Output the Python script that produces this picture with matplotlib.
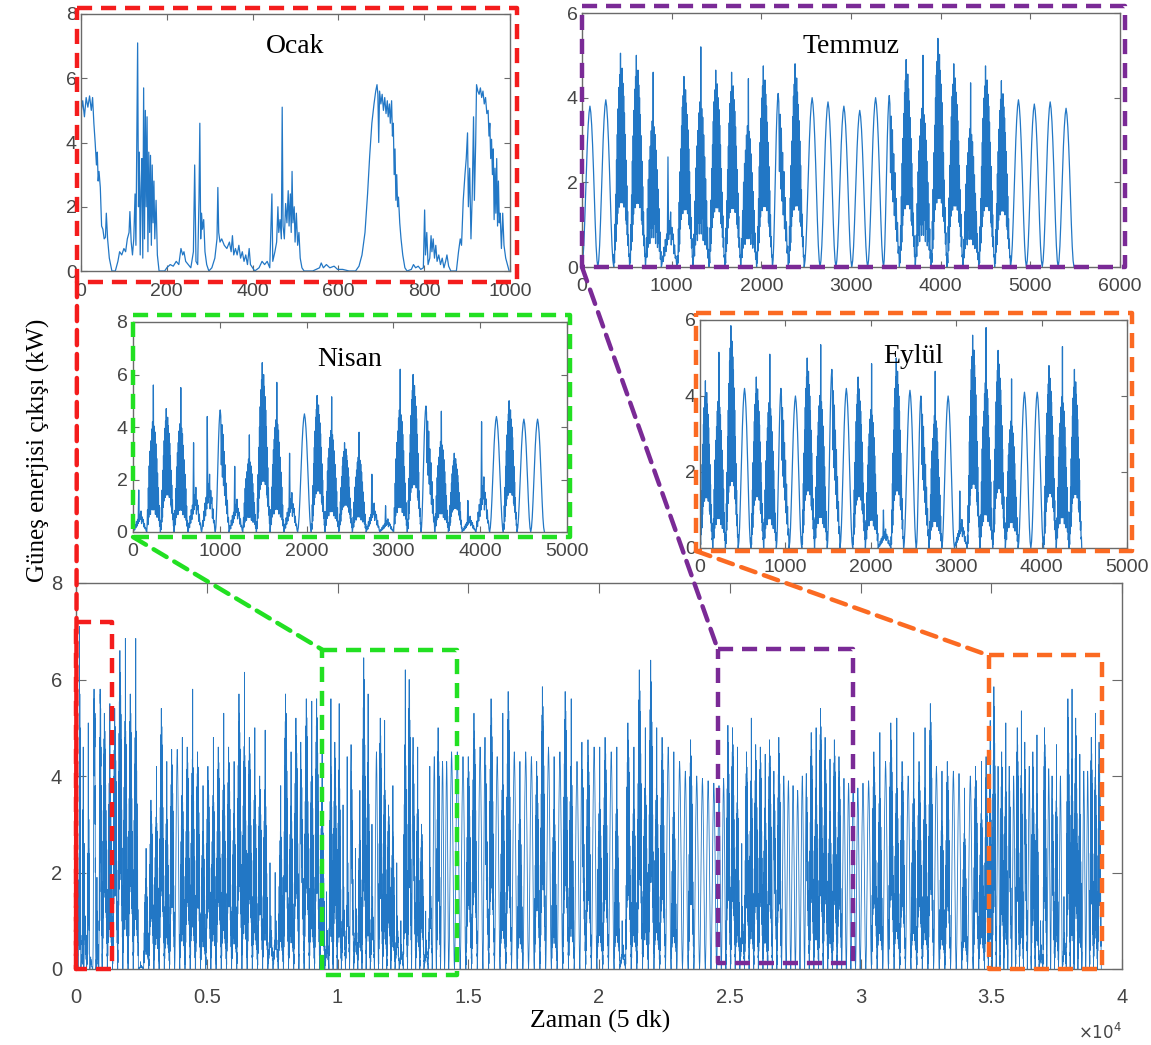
import numpy as np
import matplotlib
matplotlib.use("Agg")
import matplotlib.pyplot as plt
from matplotlib.patches import ConnectionPatch

plt.rcParams['font.family'] = ['Liberation Sans', 'DejaVu Sans']

# ---- Ocak detail (first 1000 samples) ----
ocak_x = [0, 4, 8, 12, 16, 20, 24, 27, 30, 33, 36, 38, 40, 42, 45, 48, 51, 54, 57, 59, 62, 66, 72,
          80, 86, 90, 95, 100, 104, 108, 112, 114, 117, 120, 123, 126, 128, 130, 132, 134, 136, 138,
          140, 142, 144, 146, 148, 150, 152, 154, 156, 158, 160, 162, 164, 166, 168, 170, 172, 175, 178, 182,
          195, 200, 208, 215, 222, 228, 233, 237, 240, 244, 250, 256, 262, 265, 268, 272, 275, 277, 279,
          281, 283, 286, 289, 293, 298,
          305, 312, 317, 319, 321, 324, 328, 334, 340, 346, 350, 353, 356, 360, 364, 368, 372, 376, 380,
          384, 388, 392, 395, 400, 405,
          415, 422, 428, 434, 440, 445, 447, 452, 456, 459, 461, 464, 467, 469, 471, 474, 477, 480, 483,
          485, 488, 490, 492, 494, 497, 499, 502, 505, 508, 511, 515, 520,
          540, 548, 556, 560, 565, 572, 580, 590, 598, 610, 625,
          640, 648, 655, 662, 668, 673, 678, 683, 687, 690, 692, 694, 696, 699, 702, 705, 708, 711, 714,
          716, 719, 721, 724, 726, 728, 730, 732, 734, 736, 738, 740, 743, 746, 750, 755, 760,
          770, 775, 780, 786, 792, 798, 801, 803, 806, 809, 813, 816, 818, 821, 824, 827, 830, 834, 838,
          842, 846, 850, 853, 857, 862,
          875, 880, 884, 887, 891, 895, 898, 901, 903, 906, 909, 912, 915, 917, 920, 922, 925, 928, 931,
          934, 937, 940, 943, 946, 949, 951, 953, 955, 957, 959, 961, 963, 965, 967, 969, 971, 973, 975,
          977, 980, 983, 986, 990, 994, 998]
ocak_y = [4.9, 5.3, 4.8, 5.4, 5.1, 5.45, 5.0, 5.4, 4.6, 4.0, 3.3, 3.7, 2.8, 3.1, 2.6, 1.4, 1.3, 1.0, 1.05, 1.8, 1.0, 0.4, 0.0,
          0.0, 0.3, 0.6, 0.5, 0.7, 0.6, 1.0, 1.2, 1.85, 0.9, 0.5, 1.0, 2.4, 0.8, 3.8, 7.1, 2.0, 3.7, 0.5,
          2.5, 3.5, 0.4, 5.7, 1.0, 5.0, 2.0, 4.8, 0.6, 3.7, 1.2, 3.6, 0.8, 3.3, 1.5, 2.8, 1.0, 2.2, 0.5, 0.0,
          0.0, 0.1, 0.2, 0.15, 0.3, 0.2, 0.7, 0.5, 0.6, 0.3, 0.2, 0.1, 0.6, 3.3, 0.3, 0.2, 2.2, 4.6, 1.0,
          1.8, 1.3, 1.6, 0.6, 0.2, 0.0,
          0.1, 0.4, 1.0, 2.6, 1.2, 0.9, 1.0, 0.8, 0.7, 0.9, 0.6, 1.1, 0.5, 0.7, 0.5, 0.8, 0.4, 0.6, 0.3,
          0.5, 0.2, 0.7, 0.2, 0.1, 0.0,
          0.1, 0.3, 0.2, 0.3, 0.1, 2.4, 0.3, 0.6, 0.9, 2.0, 1.2, 1.6, 1.0, 5.1, 1.4, 1.0, 2.1, 1.5, 2.5,
          1.4, 2.4, 1.2, 3.1, 1.5, 2.0, 0.9, 1.8, 0.8, 1.2, 0.4, 0.1, 0.0,
          0.0, 0.05, 0.1, 0.25, 0.1, 0.2, 0.1, 0.15, 0.05, 0.05, 0.0,
          0.0, 0.15, 0.5, 1.2, 2.4, 3.6, 4.6, 5.2, 5.6, 5.8, 5.5, 4.0, 5.6, 5.2, 5.5, 5.0, 5.4, 4.9, 5.3,
          4.8, 5.2, 4.6, 5.3, 4.2, 4.6, 3.0, 3.8, 2.2, 3.0, 2.0, 2.3, 1.5, 1.0, 0.5, 0.1, 0.0,
          0.05, 0.2, 0.1, 0.15, 0.05, 0.1, 1.9, 0.5, 1.2, 0.2, 0.4, 1.1, 0.6, 1.0, 0.4, 0.8, 0.3, 0.5, 0.2,
          0.4, 0.1, 0.3, 0.5, 0.15, 0.0,
          0.0, 0.6, 1.0, 0.8, 2.2, 3.0, 3.5, 4.3, 2.0, 3.2, 1.0, 2.4, 4.8, 2.2, 4.0, 5.8, 5.6, 5.5, 5.7,
          5.4, 5.6, 5.2, 5.4, 4.9, 5.0, 4.2, 4.6, 3.5, 4.1, 3.0, 3.8, 1.6, 3.2, 1.8, 3.5, 1.4, 2.8, 1.5,
          1.8, 0.7, 1.8, 0.8, 0.4, 0.2, 0.0]
assert len(ocak_x) == len(ocak_y)

# ---- normalised day profiles read off typical days of the insets ----
day_shapes = {
    # clear day
    'c': [0, .04, .13, .27, .44, .61, .76, .88, .96, 1.0, .96, .88, .76, .61, .44, .27, .13, .04, 0],
    # broken clouds
    'b': [0, .06, .02, .2, .08, .34, .12, .5, .2, .62, .25, .74, .3, .84, .28, .9, .35, 1.0, .3, .88,
          .38, .93, .3, .86, .34, .8, .28, .72, .3, .62, .22, .5, .2, .38, .15, .26, .1, .15, .05, .06, 0],
    # heavier broken clouds
    'd': [0, .05, .15, .05, .3, .1, .45, .15, .55, .12, .62, .2, .7, .15, .75, .2, 1.0, .15, .72, .22,
          .68, .12, .6, .18, .5, .1, .4, .12, .3, .08, .18, .04, .08, 0],
    # clear morning, cloudy afternoon
    'm': [0, .04, .13, .27, .44, .61, .76, .88, .96, 1.0, .95, .55, .88, .45, .8, .38, .66, .3, .55,
          .22, .4, .15, .26, .08, .12, 0],
    # overcast with one bright spike
    'o': [0, .03, .1, .05, .18, .1, .25, .14, .3, .2, 1.0, .25, .42, .3, .5, .2, .36, .25, .3, .12,
          .2, .08, .1, .03, 0],
}

# ---- daily peaks (kW) and sky type, stretch by stretch ----
kis_peaks = [5.3, 5.5, 5.4, 6.6, 6.85, 5.7, 6.85, 0.15, 2.5, 3.5, 4.2, 5.4, 4.3, 4.55, 4.55, 4.8,
             4.6, 5.8, 4.5, 3.8, 4.2, 4.8, 4.6, 5.3, 4.6, 4.3, 5.7, 6.15, 4.8, 5.0, 4.0, 4.95, 2.2,
             2.0, 3.8, 5.7, 4.5, 5.2, 4.7, 5.6, 5.55, 5.6, 4.7]
kis_kinds = "bdbbdbdodbdbdbcdbdbdbdbdbdbdbdbdoodbdbmbdbd"

nisan_peaks = [1.6, 5.6, 4.7, 5.5, 3.4, 4.4, 4.65, 2.5, 3.7, 6.45, 5.7, 3.0, 4.5, 5.2, 5.15, 3.4,
               3.8, 2.2, 1.0, 6.2, 6.0, 4.8, 4.6, 3.0, 1.2, 4.2, 4.4, 5.0, 4.3, 4.3]
nisan_kinds = "odbdoomodbdocbdbdoodbmdboocbcc"

bahar_peaks = [4.5, 4.5, 4.4, 4.4, 5.3, 4.6, 4.8, 5.6, 4.4, 5.3, 5.75, 4.5, 4.3, 4.5, 4.4, 4.3,
               5.85, 4.6, 4.4, 4.5, 5.75, 5.6, 4.3, 4.7, 4.75, 4.6, 4.6, 4.8, 4.5, 4.6, 1.0, 5.1,
               4.6, 6.2, 5.0, 6.4, 5.0, 4.8, 4.6, 4.5, 4.3, 4.1, 4.75, 4.0, 3.95, 3.9, 3.85]
bahar_kinds = "cccbbcmbcdbcdccbbcdcbdcmbcdbcdobdbdbdbcdccbcccc"

temmuz_peaks = [3.8, 3.95, 5.05, 5.0, 4.6, 2.6, 4.5, 5.2, 4.65, 4.6, 4.45, 4.75, 4.1, 4.8, 4.0, 3.9,
                3.8, 3.7, 4.0, 4.05, 4.9, 5.0, 5.4, 4.8, 4.35, 4.75, 4.4, 3.95, 3.85, 3.9, 3.75]
temmuz_kinds = "ccbbdobdbbdbmbcccccmbdbbdbbcccc"

agustos_peaks = [3.85, 3.9, 4.5, 4.9, 4.3, 5.1, 5.2, 4.3, 4.0, 4.9, 4.3, 5.0, 5.5, 4.2, 4.1, 4.3,
                 4.1, 4.05, 3.75, 4.0, 4.2, 4.3]
agustos_kinds = "ccbdcbdbcdbdbcdbccdcbd"

eylul_peaks = [4.4, 5.15, 5.85, 4.2, 4.5, 5.1, 4.2, 4.0, 5.0, 5.35, 4.7, 4.2, 4.5, 4.85, 1.0, 5.0,
               4.15, 4.0, 4.65, 4.0, 1.5, 5.6, 5.8, 5.2, 4.45, 4.1, 4.1, 4.8, 5.3, 4.7]
eylul_kinds = "bdbcbdmcbdmcbdobcmdcobdbdccbdb"

# samples (5 min steps) per day in each stretch
kis_day, nisan_day, bahar_day = 198, 158, 218
temmuz_day, agustos_day, eylul_day = 177, 216, 149

main_xticks = [0, 5000, 10000, 15000, 20000, 25000, 30000, 35000, 40000]
main_yticks = [0, 2, 4, 6, 8]


def build_days(start, day_len, peaks, kinds):
    assert len(peaks) == len(kinds)
    xs, ys = [], []
    for i, (p, k) in enumerate(zip(peaks, kinds)):
        shape = np.array(day_shapes[k])
        t = start + i * day_len + np.linspace(0, day_len, len(shape))
        xs.append(t[:-1])
        ys.append(p * shape[:-1])
    end = start + len(peaks) * day_len
    xs.append([end])
    ys.append([0.0])
    return np.concatenate(xs), np.concatenate(ys), end


kis_x, kis_y, nisan_start = build_days(1000, kis_day, kis_peaks, kis_kinds)
nisan_x, nisan_y, bahar_start = build_days(nisan_start, nisan_day, nisan_peaks, nisan_kinds)
bahar_x, bahar_y, temmuz_start = build_days(bahar_start, bahar_day, bahar_peaks, bahar_kinds)
temmuz_x, temmuz_y, agustos_start = build_days(temmuz_start, temmuz_day, temmuz_peaks, temmuz_kinds)
agustos_x, agustos_y, eylul_start = build_days(agustos_start, agustos_day, agustos_peaks, agustos_kinds)
eylul_x, eylul_y, _ = build_days(eylul_start, eylul_day, eylul_peaks, eylul_kinds)

all_x = np.concatenate([ocak_x, kis_x, nisan_x, bahar_x, temmuz_x, agustos_x, eylul_x])
all_y = np.concatenate([ocak_y, kis_y, nisan_y, bahar_y, temmuz_y, agustos_y, eylul_y])

# ---- figure ----
W, H = 1151, 1045
fig = plt.figure(figsize=(W / 100, H / 100), dpi=100)


def add_px_axes(left, top, right, bottom):
    return fig.add_axes([left / W, 1 - bottom / H, (right - left) / W, (bottom - top) / H])


LINE = '#2277c5'
SPINE = '#6a6a6a'
LABEL = '#454545'
DASH = (0, (3.4, 2.0))
RED, GREEN, PURPLE, ORANGE = '#f41c1c', '#22e022', '#7a2a96', '#fb6a22'


def style_axes(ax, xlim, ylim, xticks, yticks, size, length, xpad, ypad):
    ax.set_xlim(*xlim)
    ax.set_ylim(*ylim)
    ax.set_xticks(xticks)
    ax.set_yticks(yticks)
    ax.tick_params(direction='in', top=True, right=True, length=length, width=0.8,
                   color=SPINE, labelcolor=LABEL, labelsize=size)
    ax.tick_params(axis='x', pad=xpad)
    ax.tick_params(axis='y', pad=ypad)
    for s in ax.spines.values():
        s.set_color(SPINE)
        s.set_linewidth(1.0)


main = add_px_axes(76, 583, 1122, 969)
main.plot(all_x, all_y, color=LINE, lw=0.6)
style_axes(main, (0, 40000), (0, 8), main_xticks, main_yticks, 14.5, 7, 14, 10)
main.set_xticklabels([f'{v / 1e4:g}' for v in main_xticks])

ax_ocak = add_px_axes(81, 14, 510, 271)
ax_ocak.plot(ocak_x, ocak_y, color=LINE, lw=0.9)
style_axes(ax_ocak, (0, 1000), (0, 8), range(0, 1001, 200), range(0, 9, 2), 14, 4, 9, 3)

ax_tem = add_px_axes(582, 13, 1120, 267)
ax_tem.plot(temmuz_x - temmuz_start, temmuz_y, color=LINE, lw=0.9)
style_axes(ax_tem, (0, 6000), (0, 6), range(0, 6001, 1000), range(0, 7, 2), 14, 4, 8, 3)

ax_nis = add_px_axes(133, 322, 567, 532)
ax_nis.plot(nisan_x - nisan_start, nisan_y, color=LINE, lw=0.9)
style_axes(ax_nis, (0, 5000), (0, 8), range(0, 5001, 1000), range(0, 9, 2), 14, 4, 8, 4)

ax_eyl = add_px_axes(700, 320, 1127, 548)
ax_eyl.plot(eylul_x - eylul_start, eylul_y, color=LINE, lw=0.9)
style_axes(ax_eyl, (0, 5000), (0, 6), range(0, 5001, 1000), range(0, 7, 2), 14, 4, 8, 3)

for ax, name, ty in [(ax_ocak, 'Ocak', 0.875), (ax_tem, 'Temmuz', 0.87),
                     (ax_nis, 'Nisan', 0.82), (ax_eyl, 'Eylül', 0.84)]:
    ax.text(0.5, ty, name, transform=ax.transAxes, ha='center', va='center',
            family='Liberation Serif', fontsize=20, color='black')

# zoomed stretches marked on the main plot
main_boxes = [
    (RED, 0, 1370, 0.0, 7.2),
    (GREEN, 9410, 14560, -0.12, 6.62),
    (PURPLE, 24540, 29710, 0.12, 6.63),
    (ORANGE, 34900, 39230, 0.0, 6.5),
]
for col, x0, x1, y0, y1 in main_boxes:
    main.plot([x0, x1, x1, x0, x0], [y1, y1, y0, y0, y1], color=col, lw=3.2,
              linestyle=DASH, clip_on=False, zorder=5)

# overlay in pixel space for the inset frames and connectors
ov = fig.add_axes([0, 0, 1, 1])
ov.set_xlim(0, W)
ov.set_ylim(H, 0)
ov.axis('off')
ov.patch.set_alpha(0)
ov.set_zorder(10)

frames = [
    (RED, 77, 8, 517, 282),
    (PURPLE, 582, 6, 1125, 267),
    (GREEN, 133, 315, 570, 537),
    (ORANGE, 696, 313, 1132, 551),
]
for col, l, t, r, b in frames:
    ov.plot([l, r, r, l, l], [t, t, b, b, t], color=col, lw=3.2, linestyle=DASH)

links = [
    (RED, (77, 282), (0, 0.0)),
    (PURPLE, (582, 267), (24540, 6.63)),
    (GREEN, (133, 537), (9410, 6.62)),
    (ORANGE, (696, 551), (34900, 6.5)),
]
for col, pa, pb in links:
    con = ConnectionPatch(xyA=pa, coordsA=ov.transData, xyB=pb, coordsB=main.transData,
                          color=col, lw=3.2, linestyle=DASH)
    con.set_zorder(20)
    fig.add_artist(con)

fig.text(38 / W, 1 - 450 / H, 'Güneş enerjisi çıkışı (kW)', rotation=90, ha='center', va='center',
         family='Liberation Serif', fontsize=18)
fig.text(600 / W, 1 - 1021 / H, 'Zaman (5 dk)', ha='center', va='center',
         family='Liberation Serif', fontsize=18.5)
fig.text(1100 / W, 1 - 1032 / H, r'$\times10^{4}$', ha='center', va='center', color=LABEL, fontsize=12)

fig.savefig('out.png', dpi=100)
